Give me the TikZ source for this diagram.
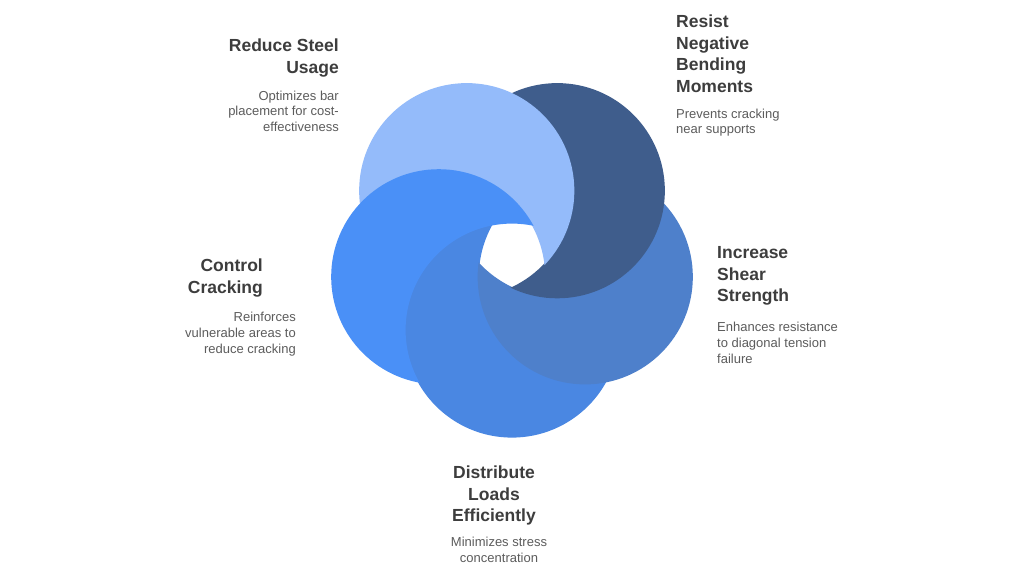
\documentclass[tikz,border=0pt]{standalone}
\usepackage{fontspec}
\setmainfont{Liberation Sans}
\usetikzlibrary{calc}
\definecolor{cLight}{HTML}{94BBFA}
\definecolor{cDark}{HTML}{3F5D8C}
\definecolor{cRight}{HTML}{4E80CB}
\definecolor{cBottom}{HTML}{4A87E2}
\definecolor{cLeft}{HTML}{4A90F7}
\definecolor{titlegray}{HTML}{3D3D3D}
\definecolor{descgray}{HTML}{5C5C5C}
% visible part of circle #1 = circle #1 minus circle #2 (slightly widened to hide seams)
\newcommand\ringpiece[3]{%
  \begin{scope}
    \clip (#1) circle[radius=107.6pt];
    \fill[#3, even odd rule] (0,0) rectangle (1024,576) (#2) circle[radius=106.4pt];
  \end{scope}}
\begin{document}
\begin{tikzpicture}[x=1pt,y=-1pt,
  title/.style={font=\fontsize{17.5}{21.5}\selectfont\bfseries, text=titlegray, inner sep=0pt},
  desc/.style={font=\fontsize{13}{15.7}\selectfont, text=descgray, inner sep=0pt}]
\useasboundingbox[fill=white] (0,0) rectangle (1024,576);
\coordinate (O) at (512,253);
\coordinate (cB) at ($(O)+(90:77)$);
\coordinate (cR) at ($(O)+(18:77)$);
\coordinate (cD) at ($(O)+(-54:77)$);
\coordinate (cL) at ($(O)+(-126:77)$);
\coordinate (cF) at ($(O)+(162:77)$);
\ringpiece{cB}{cR}{cBottom}
\ringpiece{cR}{cD}{cRight}
\ringpiece{cD}{cL}{cDark}
\ringpiece{cL}{cF}{cLight}
\ringpiece{cF}{cB}{cLeft}
% texts
\node[title, align=right, anchor=north east] (t1) at (339,38.5) {\rule{0pt}{13pt}Reduce Steel\\Usage};
\node[desc, align=right, anchor=north east] (d1) at (339,90) {\rule{0pt}{10pt}Optimizes bar\\placement for cost-\\effectiveness};
\node[title, align=left, anchor=north west] (t2) at (676,14.3) {\rule{0pt}{13pt}Resist\\Negative\\Bending\\Moments};
\node[desc, align=left, anchor=north west] (d2) at (676,108) {\rule{0pt}{10pt}Prevents cracking\\near supports};
\node[title, align=left, anchor=north west] (t3) at (717,245.3) {\rule{0pt}{13pt}Increase\\Shear\\Strength};
\node[desc, align=left, anchor=north west] (d3) at (717,321.5) {\rule{0pt}{10pt}Enhances resistance\\to diagonal tension\\failure};
\node[title, align=right, anchor=north east] (t4) at (263,258.7) {\rule{0pt}{13pt}Control\\Cracking};
\node[desc, align=right, anchor=north east] (d4) at (296,311.7) {\rule{0pt}{10pt}Reinforces\\vulnerable areas to\\reduce cracking};
\node[title, align=center, anchor=north] (t5) at (494,465.3) {\rule{0pt}{13pt}Distribute\\Loads\\Efficiently};
\node[desc, align=center, anchor=north] (d5) at (499,536.7) {\rule{0pt}{10pt}Minimizes stress\\concentration};
\end{tikzpicture}
\end{document}
